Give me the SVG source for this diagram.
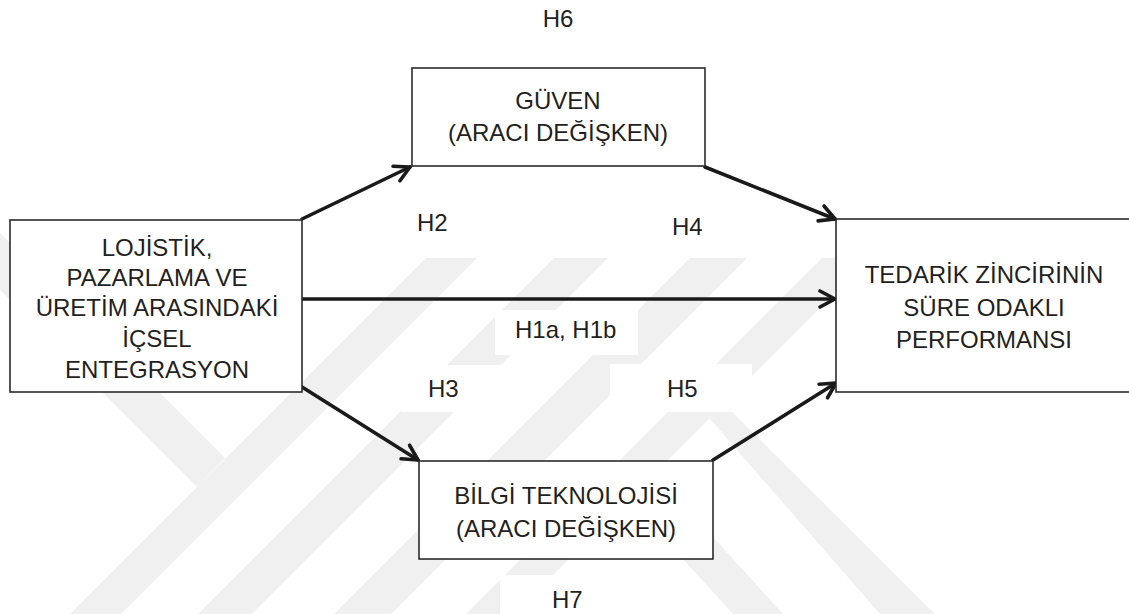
<svg xmlns="http://www.w3.org/2000/svg" width="1129" height="614" viewBox="0 0 1129 614">
  <defs>
    <style>
      .bg { fill: #ffffff; }
      .wm { fill: #f0f0f0; }
      .box { fill: #ffffff; stroke: #2b2b2b; stroke-width: 1.6; }
      .lblbg { fill: #ffffff; }
      .txt { font-family: "Liberation Sans", Arial, sans-serif; font-size: 24px; fill: #231f20; }
      .mid { text-anchor: middle; }
      .edge { fill: none; stroke: #1a1a1a; stroke-width: 3.6; stroke-linecap: round; marker-end: url(#arrow); }
    </style>
    <marker id="arrow" markerUnits="userSpaceOnUse" markerWidth="24" markerHeight="22" refX="18" refY="9" orient="auto" overflow="visible">
      <path d="M3,1 L18,9 L3,17" fill="none" stroke="#1a1a1a" stroke-width="3.6" stroke-linecap="round" stroke-linejoin="round"/>
    </marker>
  </defs>

  <rect class="bg" x="0" y="0" width="1129" height="614"/>

  <!-- faint background emblem made of diagonal bands -->
  <g id="emblem">
    <polygon class="wm" points="426,258 477,258 121,614 70,614"/>
    <polygon class="wm" points="554,258 608,258 252,614 198,614"/>
    <polygon class="wm" points="690,258 747,258 391,614 334,614"/>
    <polygon class="wm" points="822,258 870,258 514,614 466,614"/>
    <polygon class="wm" points="0,233 225,458 197,487 0,290"/>
    <polygon class="wm" points="697,404 724,404 935,614 880,614"/>
    <polygon class="wm" points="602,470 652,470 783,614 733,614"/>
  </g>

  <!-- white plates behind the path labels -->
  <g id="label-plates">
    <rect class="lblbg" x="495" y="310" width="143" height="45"/>
    <rect class="lblbg" x="402" y="365" width="102" height="47"/>
    <rect class="lblbg" x="610" y="364" width="142" height="48"/>
    <rect class="lblbg" x="500" y="575" width="137" height="39"/>
  </g>

  <!-- connectors -->
  <g id="connectors">
    <line class="edge" x1="302" y1="219" x2="410" y2="167"/>
    <line class="edge" x1="705" y1="167" x2="835" y2="219"/>
    <line class="edge" x1="302" y1="299" x2="835" y2="299"/>
    <line class="edge" x1="302" y1="387" x2="418" y2="460"/>
    <line class="edge" x1="713" y1="460" x2="836" y2="383"/>
  </g>

  <g id="node-entegrasyon">
    <rect class="box" x="10" y="220" width="292" height="172"/>
    <text class="txt mid" x="157" y="256">LOJİSTİK,</text>
    <text class="txt mid" x="157" y="286">PAZARLAMA VE</text>
    <text class="txt mid" x="157" y="316">ÜRETİM ARASINDAKİ</text>
    <text class="txt mid" x="157" y="347">İÇSEL</text>
    <text class="txt mid" x="157" y="378">ENTEGRASYON</text>
  </g>

  <g id="node-guven">
    <rect class="box" x="412" y="68" width="293" height="98"/>
    <text class="txt mid" x="558" y="109">GÜVEN</text>
    <text class="txt mid" x="558" y="141">(ARACI DEĞİŞKEN)</text>
  </g>

  <g id="node-bilgi">
    <rect class="box" x="419" y="461" width="294" height="98"/>
    <text class="txt mid" x="566" y="504">BİLGİ TEKNOLOJİSİ</text>
    <text class="txt mid" x="566" y="537">(ARACI DEĞİŞKEN)</text>
  </g>

  <g id="node-performans">
    <rect class="box" x="836" y="219" width="300" height="173"/>
    <text class="txt mid" x="984" y="283">TEDARİK ZİNCİRİNİN</text>
    <text class="txt mid" x="984" y="316">SÜRE ODAKLI</text>
    <text class="txt mid" x="984" y="348">PERFORMANSI</text>
  </g>

  <!-- hypothesis labels -->
  <g id="labels">
    <text class="txt mid" x="558" y="27">H6</text>
    <text class="txt" x="417" y="231">H2</text>
    <text class="txt" x="672" y="235">H4</text>
    <text class="txt" x="515" y="338">H1a, H1b</text>
    <text class="txt" x="428" y="397">H3</text>
    <text class="txt" x="667" y="397">H5</text>
    <text class="txt" x="552" y="608">H7</text>
  </g>
</svg>
